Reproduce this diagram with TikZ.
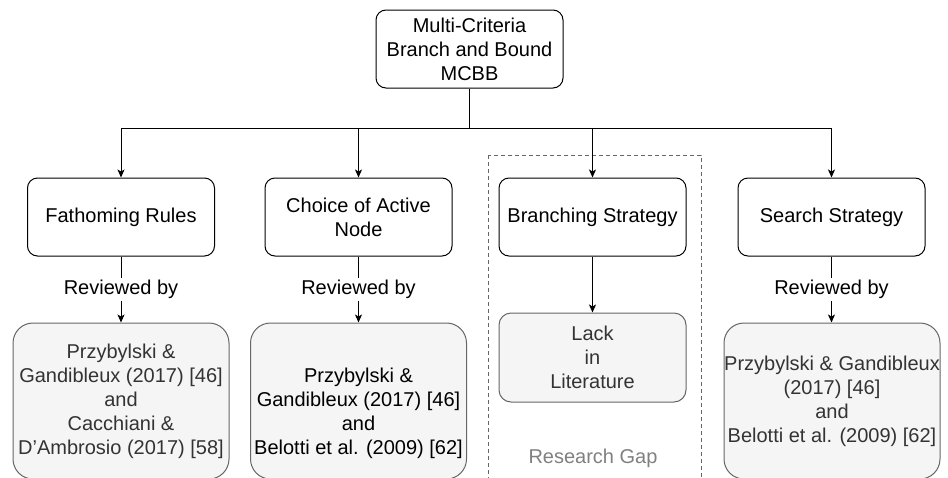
\documentclass[tikz,border=0pt]{standalone}
\usepackage{fontspec}
\setmainfont{Liberation Sans}
\usetikzlibrary{arrows.meta, positioning}

\definecolor{boxfill}{HTML}{F5F5F5}
\definecolor{boxline}{HTML}{666666}
\definecolor{boxtext}{HTML}{333333}
\definecolor{gaptext}{HTML}{808080}

\tikzset{
  stagebox/.style={draw=black, line width=1pt, rounded corners=10pt, minimum width=187pt, minimum height=78pt, align=center, inner sep=0pt},
  refbox/.style={draw=boxline, fill=boxfill, line width=1pt, rounded corners=20pt, minimum width=216pt, minimum height=156pt, align=center, inner sep=0pt},
  gapbox/.style={draw=boxline, fill=boxfill, line width=1pt, rounded corners=12pt, minimum width=187pt, minimum height=89pt, align=center, inner sep=0pt, text=boxtext},
  revlabel/.style={fill=white, inner sep=2pt}
}

\begin{document}
\begin{tikzpicture}[x=1pt, y=-1pt, >={Stealth[length=8pt, width=7pt, inset=2pt]}, line width=1pt, font=\fontsize{20}{24}\selectfont]

\useasboundingbox (0,0) rectangle (948,477);

%\draw[step=10pt, gray!20] (0,0) grid (948,477);

% research gap frame
\draw[boxline, dashed, dash pattern=on 4pt off 3pt] (488,155) rectangle (701,500);
\node[text=gaptext] (gap) at (593,458) {Research Gap};

\node[stagebox] (mcbb) at (469.5,49) {Multi-Criteria\\Branch and Bound\\MCBB};

\node[stagebox] (fr) at (121,217) {Fathoming Rules};
\node[stagebox] (can) at (358.5,217) {Choice of Active\\Node};
\node[stagebox] (bs) at (592.5,217) {Branching Strategy};
\node[stagebox] (ss) at (831.5,217) {Search Strategy};

\node[refbox, text=boxtext] (rev1) at (121,401) {Przybylski \&\\Gandibleux (2017) [46]\\and\\Cacchiani \&\\D'Ambrosio (2017) [58]};
\node[refbox] (rev2) at (358.5,401) {};
\node[text=black, align=center] (rev2txt) at (358.5,413) {Przybylski \&\\Gandibleux (2017) [46]\\and\\Belotti et al. (2009) [62]};
\node[gapbox] (lack) at (592.5,357.5) {Lack\\in\\Literature};
\node[refbox, text=boxtext] (rev4) at (832,401) {Przybylski \& Gandibleux\\(2017) [46]\\and\\Belotti et al. (2009) [62]};

% tree
\coordinate (bus) at (469.5,128);
\draw (mcbb) -- (bus);
\draw (fr.north |- bus) -- (ss.north |- bus);
\foreach \n in {fr, can, bs, ss}
{
\draw[->] (\n.north |- bus) -- (\n);
};

\draw[->] (fr) -- node[revlabel] {Reviewed by} (rev1);
\draw[->] (can) -- node[revlabel] {Reviewed by} (rev2);
\draw[->] (bs) -- (lack);
\draw[->] (ss) -- node[revlabel] {Reviewed by} (ss |- rev4.north);

\end{tikzpicture}
\end{document}
